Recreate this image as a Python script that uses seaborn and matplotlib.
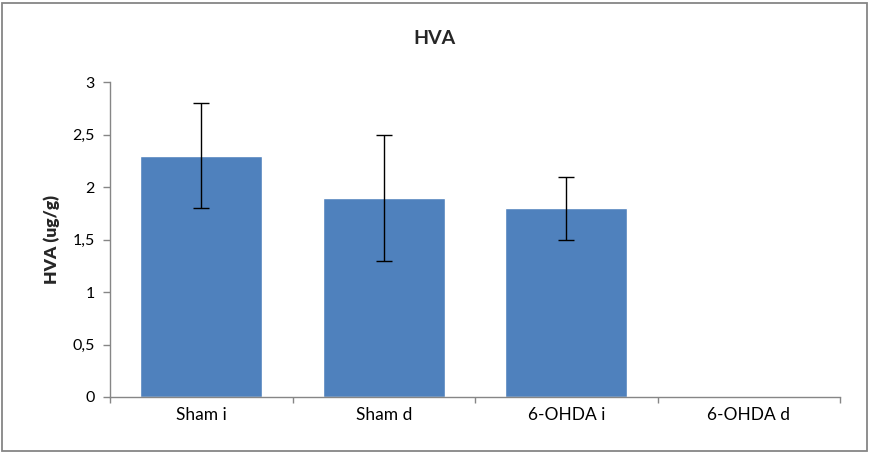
import matplotlib
matplotlib.use("Agg")
import matplotlib.pyplot as plt
import seaborn as sns
import pandas as pd
from matplotlib.patches import Rectangle
from matplotlib.ticker import FixedLocator, FuncFormatter

categories = ["Sham i", "Sham d", "6-OHDA i", "6-OHDA d"]
values = [2.3, 1.9, 1.8, 0.0]
errors = [0.5, 0.6, 0.3, 0.0]
yticks = [0, 0.5, 1, 1.5, 2, 2.5, 3]

sns.set_theme(style="white")
plt.rcParams["font.family"] = ["Lato", "DejaVu Sans"]

df = pd.DataFrame({"group": categories, "value": values, "err": errors})

fig = plt.figure(figsize=(8.69, 4.54), dpi=100)
ax = fig.add_axes([110/869, 1-397/454, 730/869, 315/454])

sns.barplot(data=df, x="group", y="value", color="#4F81BD", saturation=1,
            width=0.67, errorbar=None, ax=ax, order=categories)
for i, (v, e) in enumerate(zip(values, errors)):
    if e > 0:
        ax.errorbar(i, v, yerr=e, fmt="none", ecolor="black", elinewidth=1,
                    capsize=6, capthick=1)

ax.set_xlim(-0.5, 3.5)
ax.set_ylim(0, 3)
ax.set_yticks(yticks)
ax.yaxis.set_major_formatter(FuncFormatter(lambda v, p: ("%g" % v).replace(".", ",")))
ax.xaxis.set_minor_locator(FixedLocator([-0.5, 0.5, 1.5, 2.5, 3.5]))
ax.tick_params(axis="x", which="major", length=0, labelsize=12.5, pad=7, colors="black")
ax.tick_params(axis="x", which="minor", length=4, width=1, color="#868686", bottom=True)
ax.tick_params(axis="y", which="major", length=5, width=1, color="#868686", left=True,
               labelsize=11.5, pad=6, labelcolor="black")
for s in ["top", "right"]:
    ax.spines[s].set_visible(False)
for s in ["left", "bottom"]:
    ax.spines[s].set_color("#868686")
    ax.spines[s].set_linewidth(1)

ax.set_xlabel("")
ax.set_ylabel("HVA (ug/g)", fontsize=12.5, fontweight="heavy", labelpad=9)
fig.text(0.5, 1-38/454, "HVA", ha="center", va="center", fontsize=14, fontweight="bold")

fig.patches.append(Rectangle((2/869, 3/454), 865/869, 448/454, transform=fig.transFigure,
                             fill=False, edgecolor="#868686", linewidth=1.3))

fig.savefig("out.png", dpi=100)
